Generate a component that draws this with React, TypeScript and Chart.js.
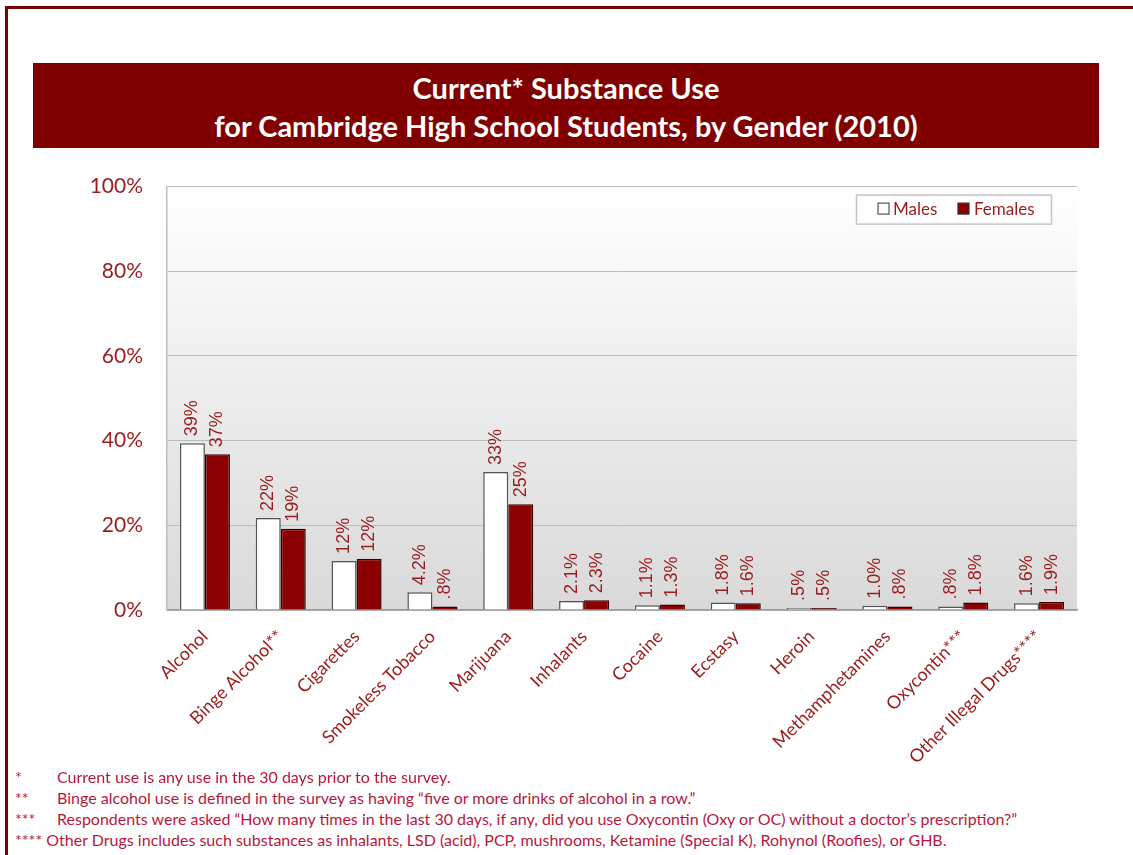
import React, { useEffect, useRef } from "react";
import { Chart, registerables } from "chart.js";

Chart.register(...registerables);

const categories = [
  "Alcohol",
  "Binge Alcohol**",
  "Cigarettes",
  "Smokeless Tobacco",
  "Marijuana",
  "Inhalants",
  "Cocaine",
  "Ecstasy",
  "Heroin",
  "Methamphetamines",
  "Oxycontin***",
  "Other Illegal Drugs****",
];
const males = [39.4, 21.7, 11.6, 4.2, 32.6, 2.1, 1.1, 1.8, 0.5, 1.0, 0.8, 1.6];
const females = [36.8, 19.2, 12.1, 0.8, 25.0, 2.3, 1.3, 1.6, 0.5, 0.8, 1.8, 1.9];
const yTicks = [0, 20, 40, 60, 80, 100];

const titleLines = ["Current* Substance Use", "for Cambridge High School Students, by Gender (2010)"];
const footnotes = [
  ["*", "Current use is any use in the 30 days prior to the survey."],
  ["**", "Binge alcohol use is defined in the survey as having \u201cfive or more drinks of alcohol in a row.\u201d"],
  ["***", "Respondents were asked \u201cHow many times in the last 30 days, if any, did you use Oxycontin (Oxy or OC) without a doctor\u2019s prescription?\u201d"],
  ["****", "Other Drugs includes such substances as inhalants, LSD (acid), PCP, mushrooms, Ketamine (Special K), Rohynol (Roofies), or GHB."],
];

const RED_TEXT = "#9b1c1c";
const FEMALE = "#8b0000";

function fmt(v: number): string {
  if (v >= 10) return Math.round(v) + "%";
  return v.toFixed(1).replace(/^0/, "") + "%";
}

const bgPlugin = {
  id: "plotBg",
  beforeDraw(chart: any) {
    const { ctx, chartArea } = chart;
    const g = ctx.createLinearGradient(0, chartArea.top, 0, chartArea.bottom);
    g.addColorStop(0, "#ffffff");
    g.addColorStop(1, "#d9d9d9");
    ctx.save();
    ctx.fillStyle = g;
    ctx.fillRect(chartArea.left, chartArea.top, chartArea.right - chartArea.left, chartArea.bottom - chartArea.top);
    ctx.restore();
  },
};

const labelPlugin = {
  id: "valLabels",
  afterDatasetsDraw(chart: any) {
    const { ctx } = chart;
    ctx.save();
    ctx.fillStyle = RED_TEXT;
    ctx.font = "18px 'Liberation Sans', Arial, sans-serif";
    ctx.textAlign = "left";
    ctx.textBaseline = "middle";
    chart.data.datasets.forEach((ds: any, di: number) => {
      const meta = chart.getDatasetMeta(di);
      meta.data.forEach((bar: any, i: number) => {
        ctx.save();
        ctx.translate(bar.x, bar.y - 7);
        ctx.rotate(-Math.PI / 2);
        ctx.fillText(fmt(ds.data[i]), 0, 0);
        ctx.restore();
      });
    });
    ctx.restore();
  },
};

const legendPlugin = {
  id: "boxLegend",
  afterDraw(chart: any) {
    const { ctx, chartArea } = chart;
    const right = chartArea.right - 26;
    const top = chartArea.top + 8;
    const w = 195;
    const h = 29;
    const left = right - w;
    ctx.save();
    ctx.fillStyle = "#ffffff";
    ctx.fillRect(left, top, w, h);
    ctx.strokeStyle = "#c4c4c4";
    ctx.lineWidth = 1.5;
    ctx.strokeRect(left + 0.5, top + 0.5, w, h);
    const cy = top + h / 2;
    ctx.font = "17px Lato, sans-serif";
    ctx.textBaseline = "middle";
    ctx.textAlign = "left";
    ctx.fillStyle = "#ffffff";
    ctx.fillRect(left + 22, cy - 6, 11, 11);
    ctx.strokeStyle = "#555555";
    ctx.lineWidth = 1.2;
    ctx.strokeRect(left + 22, cy - 6, 11, 11);
    ctx.fillStyle = RED_TEXT;
    ctx.fillText("Males", left + 37, cy);
    ctx.fillStyle = FEMALE;
    ctx.fillRect(left + 102, cy - 6, 11, 11);
    ctx.strokeStyle = "#333333";
    ctx.strokeRect(left + 102, cy - 6, 11, 11);
    ctx.fillStyle = RED_TEXT;
    ctx.fillText("Females", left + 118, cy);
    ctx.restore();
  },
};

export default function App() {
  const ref = useRef<HTMLCanvasElement | null>(null);

  useEffect(() => {
    if (!ref.current) return;
    const chart = new Chart(ref.current, {
      type: "bar",
      data: {
        labels: categories,
        datasets: [
          {
            label: "Males",
            data: males,
            backgroundColor: "#ffffff",
            borderColor: "#555555",
            borderWidth: 1.5,
            categoryPercentage: 0.66,
            barPercentage: 1.0,
          },
          {
            label: "Females",
            data: females,
            backgroundColor: FEMALE,
            borderColor: "#3a0000",
            borderWidth: 1.5,
            categoryPercentage: 0.66,
            barPercentage: 1.0,
          },
        ],
      },
      options: {
        animation: false,
        responsive: false,
        devicePixelRatio: 1,
        layout: { padding: { left: 0, right: 56, top: 35, bottom: 0 } },
        plugins: {
          legend: { display: false },
          tooltip: { enabled: false },
          title: { display: false },
        },
        scales: {
          x: {
            grid: { display: false },
            border: { display: true, color: "#9a9a9a", width: 1.5 },
            ticks: {
              autoSkip: false,
              maxRotation: 45,
              minRotation: 45,
              color: RED_TEXT,
              font: { family: "Lato", size: 18 },
              padding: 8,
            },
            afterFit(scale: any) {
              scale.height = 165;
            },
          },
          y: {
            min: 0,
            max: 100,
            afterBuildTicks(scale: any) {
              scale.ticks = yTicks.map((v) => ({ value: v }));
            },
            grid: { color: "#bcbcbc", lineWidth: 1, drawTicks: false },
            border: { display: true, color: "#bdbdbd", width: 1.5 },
            ticks: {
              color: RED_TEXT,
              font: { family: "Lato", size: 21 },
              padding: 24,
              callback: (v: any) => v + "%",
            },
            afterFit(scale: any) {
              scale.width = 167;
            },
          },
        },
      },
      plugins: [bgPlugin, labelPlugin, legendPlugin],
    });
    return () => chart.destroy();
  }, []);

  return (
    <div style={{ position: "absolute", left: 0, top: 0, width: 1133, height: 855, overflow: "hidden", background: "#fff", fontFamily: "Lato, sans-serif" }}>
      <div
        style={{
          position: "absolute",
          left: 5,
          top: 6,
          width: 1200,
          height: 846,
          borderTop: "3px solid #7a0000",
          borderLeft: "3px solid #7a0000",
          borderBottom: "2px solid #d9a0a0",
        }}
      />
      <div
        style={{
          position: "absolute",
          left: 33,
          top: 63,
          width: 1066,
          height: 85,
          background: "#800000",
          color: "#fff",
          fontWeight: 700,
          fontSize: 29,
          lineHeight: "38px",
          textAlign: "center",
          display: "flex",
          flexDirection: "column",
          justifyContent: "center",
          paddingTop: 2,
          boxSizing: "border-box",
        }}
      >
        {titleLines.map((t, i) => (
          <div key={i}>{t}</div>
        ))}
      </div>
      <canvas ref={ref} width={1133} height={625} style={{ position: "absolute", left: 0, top: 150, width: 1133, height: 625 }} />
      {footnotes.map((f, i) => (
        <div
          key={i}
          style={{
            position: "absolute",
            left: 15,
            top: 766 + i * 21,
            height: 21,
            lineHeight: "21px",
            fontSize: 16,
            color: "#b8173c",
            whiteSpace: "nowrap",
          }}
        >
          {i < 3 ? (
            <>
              <span style={{ display: "inline-block", width: 42 }}>{f[0]}</span>
              {f[1]}
            </>
          ) : (
            <>
              {f[0]} {f[1]}
            </>
          )}
        </div>
      ))}
    </div>
  );
}
